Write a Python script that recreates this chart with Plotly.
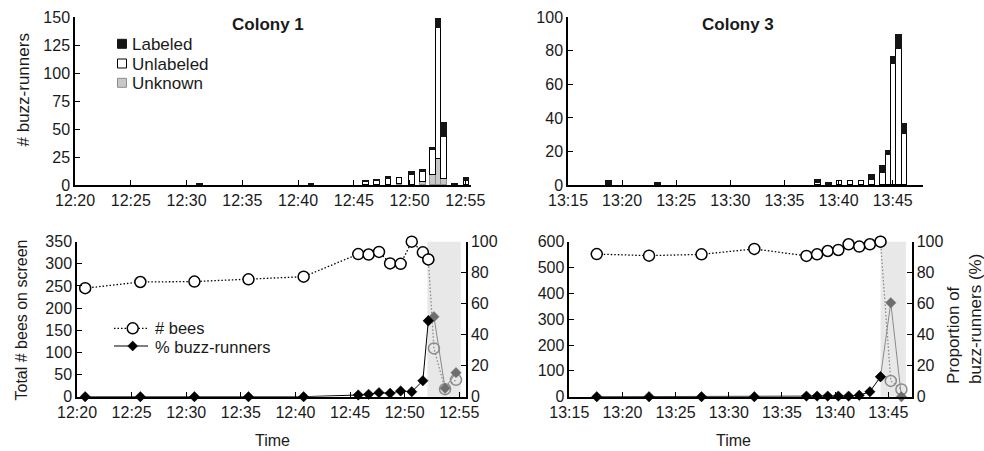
import plotly.graph_objects as go

DAY = "2024-01-01 "
W, H = 984, 451

# ---------------- data ----------------
# Colony 1 - number of buzz-runners per bin (top-left)
c1_bar_times = ["12:31:12", "12:41:12", "12:46:06", "12:47:06", "12:48:06", "12:49:06", "12:50:12",
                "12:51:12", "12:52:06", "12:52:36", "12:53:06", "12:54:06", "12:55:06"]
c1_labeled = [1, 1, 1, 1, 2, 0, 2, 2, 2, 8, 12, 1, 3]
c1_unlabeled = [0, 0, 2, 3, 5, 5, 9, 9, 22, 117, 38, 0, 3]
c1_unknown = [0, 0, 0, 0, 0, 1, 0, 2, 9, 23, 5, 0, 0]

# Colony 3 - number of buzz-runners per bin (top-right)
c3_bar_times = ["13:18:48", "13:23:18", "13:38:06", "13:39:06", "13:40:06", "13:41:06", "13:42:06",
                "13:43:06", "13:44:06", "13:44:36", "13:45:06", "13:45:36", "13:46:06"]
c3_labeled = [2, 1, 2, 1, 0, 0, 0, 3, 4, 2, 4, 8, 6]
c3_unlabeled = [0, 0, 1, 0, 2, 2, 2, 3, 7, 18, 72, 81, 30]
c3_unknown = [0] * 13

# Colony 1 - total bees and % buzz-runners (bottom-left)
c1_times = ["12:20:45", "12:25:48", "12:30:45", "12:35:42", "12:40:45", "12:45:45", "12:46:42",
            "12:47:39", "12:48:40", "12:49:38", "12:50:39", "12:51:40", "12:52:10", "12:52:41",
            "12:53:42", "12:54:42"]
c1_bees = [245, 259, 260, 265, 271, 322, 321, 327, 301, 300, 350, 326, 310, 109, 17, 38]
c1_pct = [0, 0, 0, 0, 0, 1.1, 1.5, 2.6, 2.2, 3.7, 3.2, 10.3, 49, 51.6, 5.4, 15.5]
c1_split = 12
c1_shade = ["12:52:05", "12:55:08"]

# Colony 3 - total bees and % buzz-runners (bottom-right)
c3_times = ["13:17:35", "13:22:30", "13:27:26", "13:32:24", "13:37:18", "13:38:18", "13:39:18",
            "13:40:18", "13:41:16", "13:42:16", "13:43:16", "13:44:16", "13:45:14", "13:46:14"]
c3_bees = [552, 546, 551, 572, 545, 551, 564, 568, 590, 581, 590, 600, 61, 28]
c3_pct = [0, 0, 0, 0, 0.4, 0.4, 0.4, 0.4, 0.4, 0.9, 3.2, 12.9, 60.6, 0]
c3_split = 11
c3_shade = ["13:44:16", "13:46:39"]

# ---------------- helpers ----------------
FONT = "Liberation Sans, Arial, Helvetica, sans-serif"
TXT = "#1a1a1a"
GRAY_LINE = "#8a8a8a"
GRAY_DIA = "#6e6e6e"
SHADE = "#e8e8e8"
DOT = "1.5px,2px"


def t(s):
    return DAY + s


def px(x):
    return x / W


def py(y):
    return 1 - y / H


fig = go.Figure()


def add_bars(times, lab, unl, unk, xa, ya):
    for vals, fill, line in [(unk, "#c8c8c8", "#8c8c8c"), (unl, "white", "black"), (lab, "#141414", "#141414")]:
        fig.add_bar(x=[t(s) for s in times], y=[v if v else None for v in vals], width=30000,
                    marker=dict(color=fill, line=dict(color=line, width=1)),
                    xaxis=xa, yaxis=ya, showlegend=False)


add_bars(c1_bar_times, c1_labeled, c1_unlabeled, c1_unknown, "x", "y")
add_bars(c3_bar_times, c3_labeled, c3_unlabeled, c3_unknown, "x2", "y2")


def add_lines(times, bees, pct, split, xa, ya_left, ya_right):
    tt = [t(s) for s in times]
    # gray (shaded period) first
    fig.add_scatter(x=tt[split:], y=bees[split:], mode="lines+markers", xaxis=xa, yaxis=ya_left,
                    line=dict(color=GRAY_LINE, width=1.3, dash=DOT),
                    marker=dict(symbol="circle", size=11, color="rgba(0,0,0,0)",
                                line=dict(color=GRAY_LINE, width=1.5)),
                    cliponaxis=False, showlegend=False)
    fig.add_scatter(x=tt[:split + 1], y=bees[:split + 1], mode="lines+markers", xaxis=xa, yaxis=ya_left,
                    line=dict(color="black", width=1.3, dash=DOT),
                    marker=dict(symbol="circle", size=11, color="white",
                                line=dict(color="black", width=1.5)),
                    cliponaxis=False, showlegend=False)
    fig.add_scatter(x=tt[split:], y=pct[split:], mode="lines+markers", xaxis=xa, yaxis=ya_right,
                    line=dict(color=GRAY_LINE, width=1),
                    marker=dict(symbol="diamond", size=8, color=GRAY_DIA,
                                line=dict(color=GRAY_DIA, width=0.5)),
                    cliponaxis=False, showlegend=False)
    fig.add_scatter(x=tt[:split + 1], y=pct[:split + 1], mode="lines+markers", xaxis=xa, yaxis=ya_right,
                    line=dict(color="black", width=1),
                    marker=dict(symbol="diamond", size=8, color="black",
                                line=dict(color="black", width=0.5)),
                    cliponaxis=False, showlegend=False)


add_lines(c1_times, c1_bees, c1_pct, c1_split, "x3", "y3", "y4")
add_lines(c3_times, c3_bees, c3_pct, c3_split, "x4", "y5", "y6")

# ---------------- axes ----------------
ax = dict(showline=True, linecolor="black", linewidth=1.5, ticks="inside", ticklen=5, tickwidth=1,
          tickcolor="black", showgrid=False, zeroline=False, automargin=False,
          tickfont=dict(size=16, color=TXT, family=FONT))


def xax(domain, r0, r1, anchor):
    d = dict(ax)
    d.update(type="date", domain=[px(domain[0]), px(domain[1])], range=[t(r0), t(r1)],
             tickformat="%H:%M", dtick=300000, tick0=t(r0), anchor=anchor)
    return d


def yax(domain, rng, dtick, anchor, side="left", overlaying=None):
    d = dict(ax)
    d.update(domain=[py(domain[1]), py(domain[0])], range=rng, dtick=dtick, anchor=anchor, side=side)
    if overlaying:
        d["overlaying"] = overlaying
    return d


TOP = (17.3, 185)
BOT = (241.7, 396.7)

fig.update_layout(
    width=W, height=H, margin=dict(l=0, r=0, t=0, b=0, autoexpand=False),
    paper_bgcolor="white", plot_bgcolor="rgba(0,0,0,0)",
    barmode="stack", bargap=0,
    font=dict(family=FONT, color=TXT, size=16),
    xaxis=xax((75, 470.5), "12:20:00", "12:55:28", "y"),
    yaxis=yax(TOP, [0, 150], 25, "x"),
    xaxis2=xax((568, 923), "13:15:00", "13:47:48", "y2"),
    yaxis2=yax(TOP, [0, 100], 20, "x2"),
    xaxis3=xax((77, 466), "12:20:00", "12:55:37", "y3"),
    yaxis3=yax(BOT, [0, 350], 50, "x3"),
    yaxis4=yax(BOT, [0, 100], 20, "x3", side="right", overlaying="y3"),
    xaxis4=xax((569.3, 911.7), "13:15:00", "13:47:12", "y5"),
    yaxis5=yax(BOT, [0, 600], 100, "x4"),
    yaxis6=yax(BOT, [0, 100], 20, "x4", side="right", overlaying="y5"),
)

shapes = [
    dict(type="rect", xref="x3", yref="y3 domain", x0=t(c1_shade[0]), x1=t(c1_shade[1]), y0=0, y1=1,
         fillcolor=SHADE, line=dict(width=0), layer="below"),
    dict(type="rect", xref="x4", yref="y5 domain", x0=t(c3_shade[0]), x1=t(c3_shade[1]), y0=0, y1=1,
         fillcolor=SHADE, line=dict(width=0), layer="below"),
]

annotations = []


def ann(x, y, text, size=16, bold=False, angle=0, xanchor="center", align="center"):
    annotations.append(dict(x=px(x), y=py(y), xref="paper", yref="paper", text=("<b>%s</b>" % text) if bold else text,
                            showarrow=False, textangle=angle, xanchor=xanchor, yanchor="middle", align=align,
                            font=dict(size=size, color=TXT, family=FONT)))


# legend 1 (bars)
leg1 = [("Labeled", "#141414", "#141414", 43.8), ("Unlabeled", "white", "black", 63.5),
        ("Unknown", "#c8c8c8", "#8c8c8c", 82.8)]
for name, fill, line, yc in leg1:
    shapes.append(dict(type="rect", xref="paper", yref="paper", x0=px(117.5), x1=px(126.5),
                       y0=py(yc + 4.5), y1=py(yc - 4.5), fillcolor=fill, line=dict(color=line, width=1)))
    ann(129.5, yc + 1, name, size=17, xanchor="left")

# legend 2 (lines)
shapes.append(dict(type="line", xref="paper", yref="paper", x0=px(114), x1=px(148), y0=py(328.3), y1=py(328.3),
                   line=dict(color="black", width=1.3, dash=DOT)))
shapes.append(dict(type="circle", xref="paper", yref="paper", x0=px(127.2), x1=px(138.2), y0=py(333.8),
                   y1=py(322.8), fillcolor="white", line=dict(color="black", width=1.5)))
ann(153, 328.0, "# bees", size=16.5, xanchor="left")
shapes.append(dict(type="line", xref="paper", yref="paper", x0=px(114), x1=px(148), y0=py(346), y1=py(346),
                   line=dict(color="black", width=1)))
dx, dy = 5, 5
path = "M %f %f L %f %f L %f %f L %f %f Z" % (px(132.7 - dx), py(346), px(132.7), py(346 - dy),
                                              px(132.7 + dx), py(346), px(132.7), py(346 + dy))
shapes.append(dict(type="path", xref="paper", yref="paper", path=path, fillcolor="black",
                   line=dict(color="black", width=0.5)))
ann(153, 347.0, "% buzz-runners", size=16.5, xanchor="left")

# titles
ann(267.5, 25, "Colony 1", size=17, bold=True)
ann(737.5, 25, "Colony 3", size=17, bold=True)
ann(22.5, 90, "# buzz-runners", size=17, angle=-90)
ann(20.5, 320, "Total # bees on screen", size=16, angle=-90)
ann(272, 440, "Time", size=16)
ann(733, 440, "Time", size=16)
annotations.append(dict(x=px(964), y=py(386), xref="paper", yref="paper",
                        text="Proportion of<br>buzz-runners (%)", showarrow=False, textangle=-90,
                        xanchor="center", yanchor="bottom", align="left",
                        font=dict(size=17, color=TXT, family=FONT)))

fig.update_layout(shapes=shapes, annotations=annotations)

fig.write_html("out.html", config={"displayModeBar": False},
               post_script="document.body.style.margin='0';")
